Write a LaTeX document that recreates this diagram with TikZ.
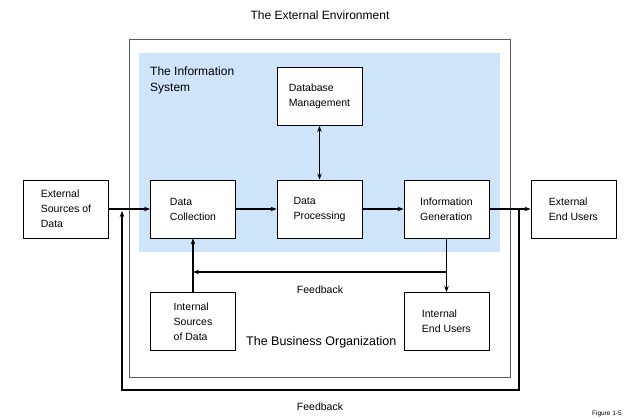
\documentclass[tikz,border=0pt]{standalone}
\usepackage{fontspec}
\setmainfont{Liberation Sans}
\usetikzlibrary{calc,positioning,arrows.meta}
\definecolor{isblue}{RGB}{206,228,250}
\definecolor{orggray}{RGB}{90,90,90}
\begin{document}
\begin{tikzpicture}[x=1pt,y=-1pt,>={Stealth[length=6pt,width=4.5pt]},
  box/.style={draw=black,line width=0.8pt,fill=white,minimum width=85pt,minimum height=58pt,
    align=left,font=\fontsize{10.5}{15}\selectfont,inner sep=2pt},
  flow/.style={->,line width=1.6pt},
  lbl/.style={font=\fontsize{10.5}{13}\selectfont}]
  \useasboundingbox (0,0) rectangle (625,419);
  % regions
  \draw[orggray,line width=0.9pt] (129,39) rectangle (510,377);
  \fill[isblue] (139,53) rectangle (500,252);
  \node[font=\fontsize{12}{14}\selectfont] (env) at (320,15) {The External Environment};
  \node[font=\fontsize{12}{16}\selectfont,align=left,anchor=north west,inner sep=0pt] (isys) at (150,67) {The Information\\System};
  \node[font=\fontsize{12.5}{14}\selectfont,anchor=west,inner sep=0pt] (borg) at (246,342) {The Business Organization};
  % boxes
  \node[box] (dbm) at (319.5,96.5) {Database\\Management};
  \node[box] (extsrc) at (66,209) {External\\Sources of\\Data};
  \node[box] (collect) at (193,209) {Data\\Collection};
  \node[box] (process) at (319.5,209) {Data\\Processing};
  \node[box] (infogen) at (446.5,209) {Information\\Generation};
  \node[box] (extusers) at (573.5,209) {External\\End Users};
  \node[box] (intsrc) at (193,321.5) {Internal\\Sources\\of Data};
  \node[box] (intusers) at (446.5,321.5) {Internal\\End Users};
  % connectors
  \coordinate (injoin) at (122,209);
  \coordinate (outsplit) at (519,209);
  \coordinate (fbsplit) at (446.5,272);
  \draw[flow] (extsrc) -- (collect);
  \draw[flow] (collect) -- (process);
  \draw[flow] (process) -- (infogen);
  \draw[flow] (infogen) -- (extusers);
  \draw[<->,line width=1.6pt] (dbm) -- (process);
  \draw[flow] (infogen) -- (intusers);
  \draw[flow] (fbsplit) -- (fbsplit -| collect);
  \draw[flow] (intsrc) -- (collect);
  \draw[flow] (outsplit) -- ++(0,181) -| ($(injoin)+(0,2)$);
  \node[lbl] (fbin) at (320,290) {Feedback};
  \node[lbl] (fbout) at (320,407) {Feedback};
  \node[font=\fontsize{6.5}{7}\selectfont,anchor=east,inner sep=0pt] (fig) at (622,414) {Figure 1-5};
\end{tikzpicture}
\end{document}
